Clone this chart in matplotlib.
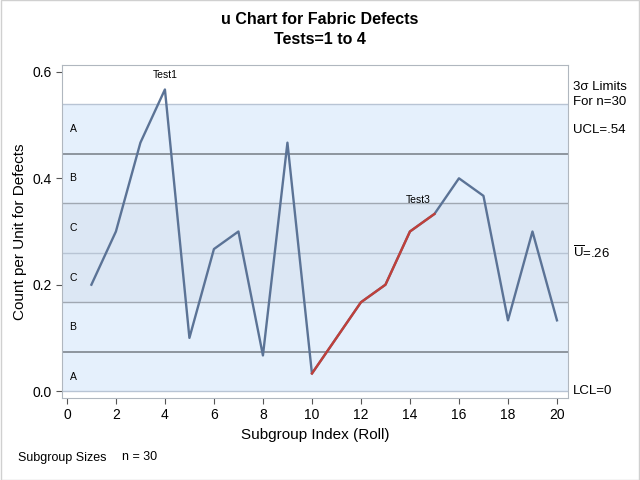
import numpy as np
import matplotlib
matplotlib.use("Agg")
import matplotlib.pyplot as plt

plt.rcParams['font.family'] = ['Liberation Sans', 'DejaVu Sans']
plt.rcParams['mathtext.fontset'] = 'custom'
plt.rcParams['mathtext.rm'] = 'Liberation Sans'

subgroups = list(range(1, 21))
u_values = [0.200, 0.300, 0.467, 0.567, 0.100, 0.267, 0.300, 0.067, 0.467, 0.033,
            0.100, 0.167, 0.200, 0.300, 0.333, 0.400, 0.367, 0.133, 0.300, 0.133]
n = 30
test3_start, test3_end = 10, 15
xticks = list(range(0, 21, 2))
yticks = [0.0, 0.2, 0.4, 0.6]

ubar = 0.26
sigma = np.sqrt(ubar / n)
ucl = ubar + 3 * sigma
lcl = max(0.0, ubar - 3 * sigma)

fig = plt.figure(figsize=(6.4, 4.8), dpi=100)
ax = fig.add_axes([62/640, 1 - 398/480, (568-62)/640, (398-65)/480])

zoneA = '#E5F0FC'
zoneC = '#DCE7F4'
ax.axhspan(lcl, ubar - sigma, color=zoneA, lw=0, zorder=0)
ax.axhspan(ubar - sigma, ubar + sigma, color=zoneC, lw=0, zorder=0)
ax.axhspan(ubar + sigma, ucl, color=zoneA, lw=0, zorder=0)

ax.axhline(ucl, color='#B8C4D4', lw=1, zorder=1)
ax.axhline(lcl, color='#B8C4D4', lw=1, zorder=1)
ax.axhline(ubar, color='#B8C4D4', lw=1, zorder=1)
ax.axhline(ubar + sigma, color='#A0A8B2', lw=1, zorder=1)
ax.axhline(ubar - sigma, color='#A0A8B2', lw=1, zorder=1)
ax.axhline(ubar + 2*sigma, color='#7E868E', lw=1.2, zorder=1)
ax.axhline(ubar - 2*sigma, color='#7E868E', lw=1.2, zorder=1)

x = np.array(subgroups)
y = np.array(u_values)
ax.plot(x, y, color='#5B7396', lw=1.7, zorder=3)
mask = (x >= test3_start) & (x <= test3_end)
ax.plot(x[mask], y[mask], color='#C0403A', lw=1.7, zorder=4)

ax.text(4, 0.594, 'Test1', fontsize=7.5, ha='center', va='center')
ax.text(14.35, 0.359, 'Test3', fontsize=7.5, ha='center', va='center')

zone_labels = [('A', ubar + 2.5*sigma), ('B', ubar + 1.5*sigma), ('C', ubar + 0.5*sigma),
               ('C', ubar - 0.5*sigma), ('B', ubar - 1.5*sigma), ('A', ubar - 2.5*sigma)]
for lab, yy in zone_labels:
    ax.text(0.015, yy, lab, fontsize=7.5, ha='left', va='center',
            transform=ax.get_yaxis_transform())

ax.set_xlim(-0.2, 20.45)
ax.set_ylim(-0.013, 0.613)
ax.set_xticks(xticks)
ax.set_yticks(yticks)
ax.set_yticklabels([f'{v:.1f}' for v in yticks])
ax.tick_params(labelsize=10, color='#555555', length=4)
for s in ax.spines.values():
    s.set_color('#B0B7BF')

ax.set_xlabel('Subgroup Index (Roll)', fontsize=11)
ax.set_ylabel('Count per Unit for Defects', fontsize=11)

fig.text(0.5, 1 - 20/480, 'u Chart for Fabric Defects', fontsize=11.5, fontweight='bold', ha='center', va='center')
fig.text(0.5, 1 - 40/480, 'Tests=1 to 4', fontsize=11.5, fontweight='bold', ha='center', va='center')

rx = 573/640
fig.text(rx, 1 - 87/480, '3σ Limits', fontsize=9.5, ha='left', va='center')
fig.text(rx, 1 - 102/480, f'For n={n}', fontsize=9.5, ha='left', va='center')
fig.text(rx, 1 - 130/480, f'UCL={ucl:.2f}'.replace('0.', '.'), fontsize=9.5, ha='left', va='center')
tr = ax.get_yaxis_transform()
ax.text(1 + 5/506, ubar, r'$\overline{\mathrm{U}}$' + f'={ubar:.2f}'.replace('0.', '.'), fontsize=9.5,
        ha='left', va='center', transform=tr, clip_on=False)
ax.text(1 + 5/506, lcl, 'LCL=0', fontsize=9.5, ha='left', va='center', transform=tr, clip_on=False)

fig.text(18/640, 1 - 458/480, 'Subgroup Sizes', fontsize=9, ha='left', va='center')
fig.text(122/640, 1 - 457/480, f'n = {n}', fontsize=9, ha='left', va='center')

fig.patches.append(plt.Rectangle((0.001, 0.001), 0.998, 0.998, transform=fig.transFigure,
                                 fill=False, edgecolor='#D0D0D0', lw=1))

fig.savefig('out.png', dpi=100)
